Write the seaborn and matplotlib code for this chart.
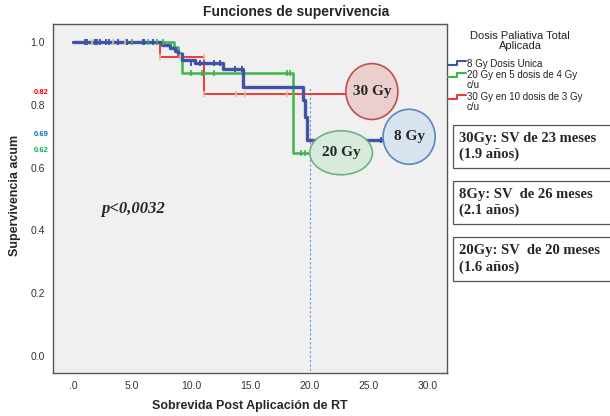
import matplotlib
matplotlib.use("Agg")
import matplotlib.pyplot as plt
import seaborn as sns
from matplotlib.patches import Ellipse, Rectangle
from matplotlib.lines import Line2D

# curvas de Kaplan-Meier (meses, supervivencia)
blue_t = [0, 7.5, 8.2, 8.6, 8.9, 9.2, 10.3, 12.7, 14.4, 19.4, 19.6, 19.8, 26.5]
blue_s = [1.0, 0.99, 0.98, 0.97, 0.96, 0.943, 0.932, 0.914, 0.857, 0.815, 0.762, 0.688, 0.688]
green_t = [0, 8.5, 8.9, 9.2, 18.6, 21.0]
green_s = [1.0, 0.985, 0.965, 0.902, 0.645, 0.645]
red_t = [0, 7.35, 11.1, 24.0]
red_s = [1.0, 0.953, 0.834, 0.834]

# censurados
blue_ct = [1.0, 1.2, 1.9, 2.0, 2.3, 2.8, 3.0, 3.8, 4.6, 5.9, 6.0, 6.8, 10.0, 10.7, 11.9, 12.4, 13.7, 14.3, 23.0, 24.0, 26.0]
blue_cs = [1.0] * 12 + [0.932] * 4 + [0.914] * 2 + [0.688] * 3
green_ct = [5.0, 6.3, 7.1, 7.6, 10.0, 10.9, 11.9, 18.1, 18.3, 19.3, 19.6]
green_cs = [1.0] * 4 + [0.902] * 5 + [0.645] * 2
red_ct = [1.6, 3.4, 4.4, 7.35, 9.0, 11.1, 11.1, 13.8, 14.5, 18.1]
red_cs = [1.0] * 3 + [0.953] * 3 + [0.834] * 4

x_ticks = [0, 5, 10, 15, 20, 25, 30]
x_labels = [".0", "5.0", "10.0", "15.0", "20.0", "25.0", "30.0"]
y_ticks = [0.0, 0.2, 0.4, 0.6, 0.8, 1.0]
y_labels = ["0.0", "0.2", "0.4", "0.6", "0.8", "1.0"]

BLUE = "#3F54A8"
GREEN = "#3CB54A"
RED = "#F03A3A"
TAN = "#D9C48F"

sns.set_style("white")
plt.rcParams["font.family"] = ["Liberation Sans", "DejaVu Sans"]

fig = plt.figure(figsize=(6.1, 4.16), dpi=100)
ax = fig.add_axes([53 / 610, 1 - 373 / 416, (447 - 53) / 610, (373 - 24) / 416])
ax.set_facecolor("#F0F0F0")

sns.lineplot(x=red_t, y=red_s, ax=ax, color=RED, linewidth=1.4,
             drawstyle="steps-post", estimator=None, zorder=3)
sns.lineplot(x=green_t, y=green_s, ax=ax, color=GREEN, linewidth=1.8,
             drawstyle="steps-post", estimator=None, zorder=4)
sns.lineplot(x=blue_t, y=blue_s, ax=ax, color=BLUE, linewidth=2.4,
             drawstyle="steps-post", estimator=None, zorder=5)

sns.scatterplot(x=red_ct, y=red_cs, ax=ax, marker="|", s=18, linewidth=1.2, color=TAN, zorder=6)
sns.scatterplot(x=green_ct, y=green_cs, ax=ax, marker="|", s=18, linewidth=1.2, color=GREEN, zorder=6)
sns.scatterplot(x=blue_ct, y=blue_cs, ax=ax, marker="|", s=22, linewidth=1.4, color=BLUE, zorder=7)

# linea de referencia a los 20 meses
ax.plot([20, 20], [-0.06, 0.853], color="#5B9BD5", linewidth=0.8, linestyle=(0, (2, 2)), zorder=2)

# globos de dosis
balloons = [
    (25.25, 0.842, 4.4, 0.178, "#EBCFCF", "#C0504D", "30 Gy"),
    (28.4, 0.698, 4.4, 0.175, "#D7E3EF", "#5B86BE", "8 Gy"),
    (22.65, 0.647, 5.3, 0.140, "#D7EBDD", "#6FAF80", "20 Gy"),
]
for cx, cy, w, h, fc, ec, lab in balloons:
    ax.add_patch(Ellipse((cx, cy), w, h, facecolor=fc, edgecolor=ec, linewidth=1.2, zorder=8))
    ax.text(cx, cy, lab, ha="center", va="center", fontsize=11, fontweight="bold",
            family="Liberation Serif", zorder=9)

ax.text(5.1, 0.468, "p<0,0032", ha="center", va="center", fontsize=12,
        fontweight="bold", fontstyle="italic", family="Liberation Serif")

ax.set_xlim(-1.69, 31.6)
ax.set_ylim(-0.054, 1.057)
ax.set_xticks(x_ticks)
ax.set_xticklabels(x_labels)
ax.set_yticks(y_ticks)
ax.set_yticklabels(y_labels)
ax.tick_params(axis="both", direction="out", length=4, width=0.8, labelsize=7.5,
               colors="#333333", pad=2)
for sp in ax.spines.values():
    sp.set_color("#555555")
    sp.set_linewidth(1.0)
ax.set_xlabel("")
ax.set_ylabel("")

fig.text(296 / 610, 1 - 12 / 416, "Funciones de supervivencia", ha="center", va="center",
         fontsize=10, fontweight="bold")
fig.text(250 / 610, 1 - 406 / 416, "Sobrevida Post Aplicación de RT", ha="center", va="center",
         fontsize=9, fontweight="bold")
fig.text(15 / 610, 1 - 195 / 416, "Supervivencia acum", ha="center", va="center",
         rotation=90, fontsize=9, fontweight="bold")

# valores marcados a la izquierda
for yy, txt, col in [(92, "0.82", "#FF0000"), (135, "0.69", "#0070C0"), (151, "0.62", "#00B050")]:
    fig.text(41 / 610, 1 - yy / 416, txt, ha="center", va="center", fontsize=5.5,
             fontweight="bold", color=col)

# leyenda
fig.text(520 / 610, 1 - 41 / 416, "Dosis Paliativa Total\nAplicada", ha="center", va="center",
         fontsize=8, color="#222222", linespacing=1.05)
legend_items = [
    (64, BLUE, "8 Gy Dosis Unica"),
    (80, GREEN, "20 Gy en 5 dosis de 4 Gy\nc/u"),
    (102, RED, "30 Gy en 10 dosis de 3 Gy\nc/u"),
]
for yy, col, txt in legend_items:
    y0 = 1 - (yy + 1 + (-4 if "\n" in txt else 0)) / 416
    y1 = y0 + 4 / 416
    xs = [448 / 610, 457 / 610, 457 / 610, 466 / 610]
    ys = [y0, y0, y1, y1]
    fig.add_artist(Line2D(xs, ys, color=col, linewidth=1.5))
    fig.text(467 / 610, 1 - yy / 416, txt, ha="left", va="center", fontsize=7,
             color="#222222", linespacing=0.95)

# cuadros de supervivencia
boxes = [
    (125, 168, "30Gy: SV de 23 meses\n(1.9 años)"),
    (181, 224, "8Gy: SV  de 26 meses\n(2.1 años)"),
    (237, 281, "20Gy: SV  de 20 meses\n(1.6 años)"),
]
for top, bot, txt in boxes:
    fig.add_artist(Rectangle((453 / 610, 1 - bot / 416), 0.3, (bot - top) / 416,
                             transform=fig.transFigure, facecolor="white",
                             edgecolor="#555555", linewidth=0.9))
    fig.text(459 / 610, 1 - (top + bot) / 2 / 416, txt, ha="left", va="center",
             fontsize=10.5, fontweight="bold", family="Liberation Serif", linespacing=1.25)

fig.savefig("out.png", dpi=100)
